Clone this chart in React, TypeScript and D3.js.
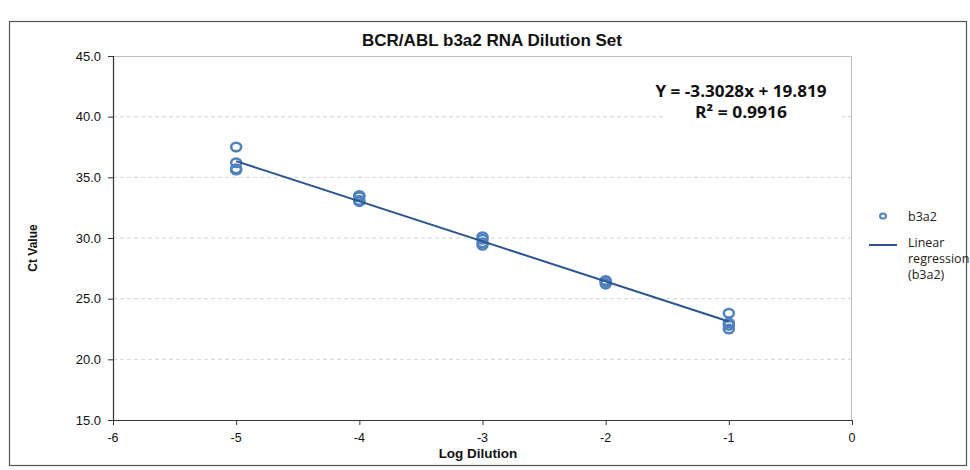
import React from "react";
import * as d3 from "d3";

const xPts = [-5, -5, -5, -5, -4, -4, -4, -4, -3, -3, -3, -3, -2, -2, -2, -1, -1, -1, -1];
const yPts = [37.5, 36.2, 35.7, 35.6, 33.5, 33.4, 33.1, 33.0, 30.1, 29.9, 29.6, 29.4, 26.5, 26.4, 26.2, 23.8, 23.0, 22.8, 22.5];
const slope = -3.3028;
const intercept = 19.819;
const fitRange = [-5, -1];
const xTicks = [-6, -5, -4, -3, -2, -1, 0];
const yTicks = [15, 20, 25, 30, 35, 40, 45];

export default function App() {
  const W = 970, H = 470;
  const L = 113, R = 852, T = 56, B = 420;
  const x = d3.scaleLinear().domain([-6, 0]).range([L, R]);
  const y = d3.scaleLinear().domain([15, 45]).range([B, T]);
  const line = d3.line<number>().x(d => x(d)).y(d => y(slope * d + intercept));
  const blue = "#4f81bd";
  const dark = "#2a5590";
  const arial = "Arial, 'Liberation Sans', sans-serif";
  const seg = "'Open Sans', 'Noto Sans', sans-serif";
  return (
    <svg width={W} height={H} style={{ position: "absolute", left: 0, top: 0 }}>
      <rect x={0} y={0} width={W} height={H} fill="#fff" />
      <rect x={9.5} y={21.5} width={957} height={444} fill="none" stroke="#555" strokeWidth={1.2} />
      <text x={492} y={46} textAnchor="middle" fontFamily={arial} fontWeight="bold" fontSize={16.5} fill="#111" textLength={260} lengthAdjust="spacingAndGlyphs">BCR/ABL b3a2 RNA Dilution Set</text>
      {yTicks.filter(t => t > 15 && t < 45).map(t => (
        <line key={t} x1={L} x2={R} y1={y(t)} y2={y(t)} stroke="#d4d4d4" strokeDasharray="4,3" strokeWidth={1} />
      ))}
      <line x1={L} x2={R} y1={T + 0.5} y2={T + 0.5} stroke="#c0c0c0" />
      <line x1={R - 0.5} x2={R - 0.5} y1={T} y2={B} stroke="#c0c0c0" />
      <rect x={666} y={78} width={176} height={48} fill="#fff" />
      <text x={741} y={97} textAnchor="middle" fontFamily={seg} fontWeight="bold" fontSize={16} fill="#111" textLength={171} lengthAdjust="spacingAndGlyphs">Y = -3.3028x + 19.819</text>
      <text x={741} y={118} textAnchor="middle" fontFamily={seg} fontWeight="bold" fontSize={16} fill="#111" textLength={92} lengthAdjust="spacingAndGlyphs">R² = 0.9916</text>
      <line x1={L + 0.5} x2={L + 0.5} y1={T} y2={B} stroke="#333" strokeWidth={1.2} />
      <line x1={L} x2={R} y1={B + 0.5} y2={B + 0.5} stroke="#333" strokeWidth={1.2} />
      {yTicks.map(t => (
        <g key={t}>
          <line x1={L - 5} x2={L} y1={y(t) + 0.5} y2={y(t) + 0.5} stroke="#333" />
          <text x={101} y={y(t) + 4.5} textAnchor="end" fontFamily={arial} fontSize={13} fill="#111">{t.toFixed(1)}</text>
        </g>
      ))}
      {xTicks.map(t => (
        <g key={t}>
          <line x1={x(t) + 0.5} x2={x(t) + 0.5} y1={B} y2={B + 5} stroke="#333" />
          <text x={x(t)} y={442} textAnchor="middle" fontFamily={arial} fontSize={12.5} fill="#111">{t}</text>
        </g>
      ))}
      <text x={478} y={458} textAnchor="middle" fontFamily={arial} fontWeight="bold" fontSize={13.5} fill="#111">Log Dilution</text>
      <text transform={`translate(37,248) rotate(-90)`} textAnchor="middle" fontFamily={arial} fontWeight="bold" fontSize={12} fill="#111">Ct Value</text>
      {xPts.map((v, i) => (
        <ellipse key={i} cx={x(v)} cy={y(yPts[i])} rx={5} ry={4.3} fill="none" stroke={blue} strokeWidth={2.5} />
      ))}
      <path d={line(fitRange) || ""} fill="none" stroke={dark} strokeWidth={2} />
      <ellipse cx={883} cy={216} rx={3} ry={2.5} fill="none" stroke={blue} strokeWidth={2} />
      <text x={908} y={221} fontFamily={seg} fontSize={12.5} fill="#222">b3a2</text>
      <line x1={869} x2={897} y1={245} y2={245} stroke={dark} strokeWidth={2} />
      <text fontFamily={seg} fontSize={12.5} fill="#222">
        <tspan x={908} y={247}>Linear</tspan>
        <tspan x={908} y={263}>regression</tspan>
        <tspan x={908} y={279}>(b3a2)</tspan>
      </text>
    </svg>
  );
}
